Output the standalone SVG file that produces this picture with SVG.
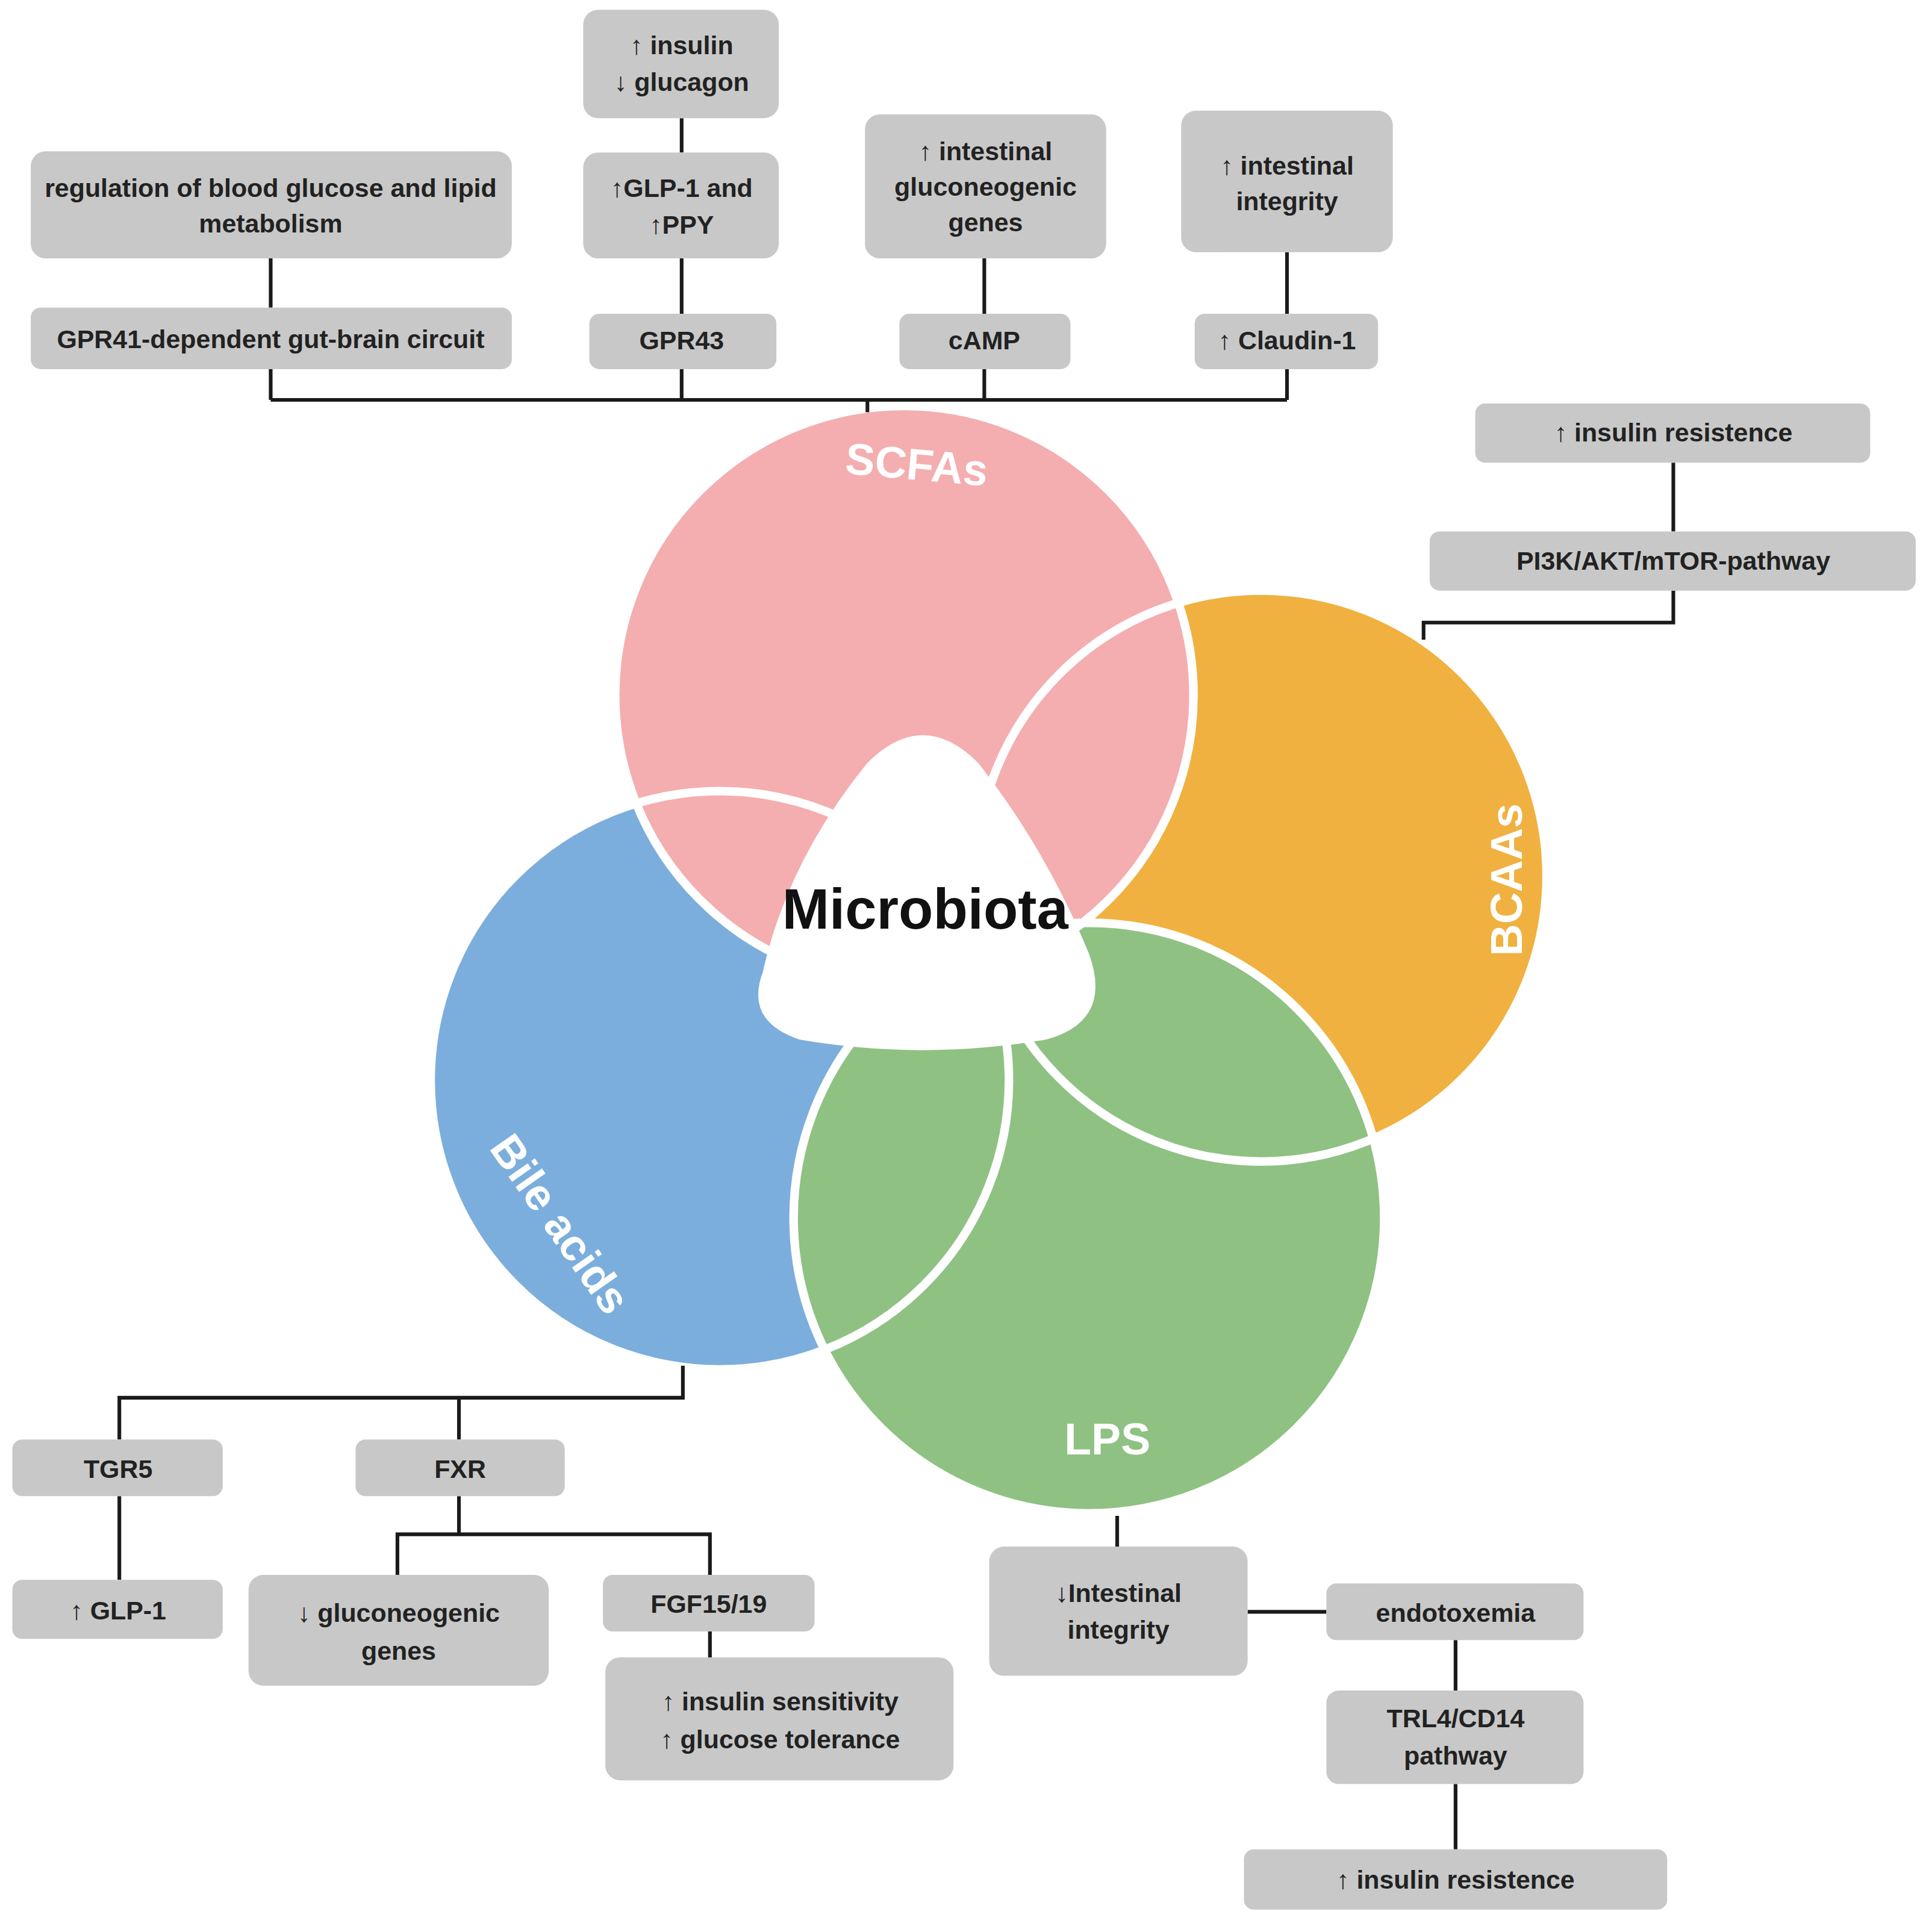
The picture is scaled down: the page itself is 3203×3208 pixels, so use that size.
<svg xmlns="http://www.w3.org/2000/svg" width="3203" height="3208" viewBox="0 0 3203 3208">
<style>
.b{fill:#C8C8C8}
.t{font-family:"Liberation Sans Narrow","Liberation Sans",sans-serif;font-weight:bold;font-size:21px;fill:#222;text-anchor:middle}
.l{stroke:#1a1a1a;stroke-width:3;fill:none}
.c{font-family:"Liberation Sans",sans-serif;font-weight:bold;font-size:36px;fill:#fff;text-anchor:middle}
.o{fill:none;stroke:#fff;stroke-width:7}
</style>
<rect width="3203" height="3208" fill="#fff"/>
<g transform="scale(2.043)">
<g id="circles">
<circle cx="585" cy="878" r="235" fill="#7BAEDC"/>
<circle cx="1025" cy="712" r="232" fill="#F0B140"/>
<circle cx="885" cy="990" r="240" fill="#8FC183"/>
<circle cx="735" cy="565" r="235" fill="#F4AEAF"/>
<circle cx="585" cy="878" r="235" class="o"/>
<circle cx="1025" cy="712" r="232" class="o"/>
<circle cx="885" cy="990" r="240" class="o"/>
<circle cx="735" cy="565" r="235" class="o"/>
<path d="M705 620 Q750 575 795 620 Q850 690 885 775 Q905 830 850 845 Q750 862 650 845 Q605 830 620 790 Q640 700 705 620 Z" fill="#fff"/>
<text x="752" y="755" style="font-family:'Liberation Sans',sans-serif;font-weight:bold;font-size:46px;fill:#111;text-anchor:middle">Microbiota</text>
<text class="c" x="745" y="390" transform="rotate(5 745 378)">SCFAs</text>
<text class="c" x="1225" y="727" transform="rotate(-90 1225 715)">BCAAs</text>
<text class="c" x="455" y="1007" transform="rotate(55 455 995)">Bile acids</text>
<text class="c" x="900" y="1182">LPS</text>
</g>
<g id="connectors">
<path class="l" d="M220 210V250M220 300V325M554 96V124M554 210V255M554 300V325M800 210V255M800 300V325M1046 205V255M1046 300V325M220 325H1046M705 325V335"/>
<path class="l" d="M1360 376V432M1360 480V506H1157V520"/>
<path class="l" d="M555 1110V1136H97V1170M373 1136V1170M97 1216V1284M373 1216V1247M323 1280V1247H577V1280M577 1326V1347"/>
<path class="l" d="M908 1232V1257M1014 1310H1078M1183 1333V1374M1183 1450V1503"/>
</g>
<g id="n1"><rect class="b" x="474" y="8" width="159" height="88" rx="12"/><text class="t" x="554" y="44">↑ insulin</text><text class="t" x="554" y="74">↓ glucagon</text></g>
<g id="n2"><rect class="b" x="474" y="124" width="159" height="86" rx="12"/><text class="t" x="554" y="160">↑GLP-1 and</text><text class="t" x="554" y="190">↑PPY</text></g>
<g id="n3"><rect class="b" x="25" y="123" width="391" height="87" rx="12"/><text class="t" x="220" y="160">regulation of blood glucose and lipid</text><text class="t" x="220" y="189">metabolism</text></g>
<g id="n4"><rect class="b" x="25" y="250" width="391" height="50" rx="8"/><text class="t" x="220" y="283">GPR41-dependent gut-brain circuit</text></g>
<g id="n5"><rect class="b" x="479" y="255" width="152" height="45" rx="8"/><text class="t" x="554" y="284">GPR43</text></g>
<g id="n6"><rect class="b" x="703" y="93" width="196" height="117" rx="12"/><text class="t" x="801" y="130">↑ intestinal</text><text class="t" x="801" y="159">gluconeogenic</text><text class="t" x="801" y="188">genes</text></g>
<g id="n7"><rect class="b" x="731" y="255" width="139" height="45" rx="8"/><text class="t" x="800" y="284">cAMP</text></g>
<g id="n8"><rect class="b" x="960" y="90" width="172" height="115" rx="12"/><text class="t" x="1046" y="142">↑ intestinal</text><text class="t" x="1046" y="171">integrity</text></g>
<g id="n9"><rect class="b" x="971" y="255" width="149" height="45" rx="8"/><text class="t" x="1046" y="284">↑ Claudin-1</text></g>
<g id="n10"><rect class="b" x="1199" y="328" width="321" height="48" rx="8"/><text class="t" x="1360" y="359">↑ insulin resistence</text></g>
<g id="n11"><rect class="b" x="1162" y="432" width="395" height="48" rx="8"/><text class="t" x="1360" y="463">PI3K/AKT/mTOR-pathway</text></g>
<g id="n12"><rect class="b" x="10" y="1170" width="171" height="46" rx="8"/><text class="t" x="96" y="1201">TGR5</text></g>
<g id="n13"><rect class="b" x="289" y="1170" width="170" height="46" rx="8"/><text class="t" x="374" y="1201">FXR</text></g>
<g id="n14"><rect class="b" x="10" y="1284" width="171" height="48" rx="8"/><text class="t" x="96" y="1316">↑ GLP-1</text></g>
<g id="n15"><rect class="b" x="202" y="1280" width="244" height="90" rx="12"/><text class="t" x="324" y="1318">↓ gluconeogenic</text><text class="t" x="324" y="1349">genes</text></g>
<g id="n16"><rect class="b" x="490" y="1280" width="172" height="46" rx="8"/><text class="t" x="576" y="1311">FGF15/19</text></g>
<g id="n17"><rect class="b" x="492" y="1347" width="283" height="100" rx="12"/><text class="t" x="634" y="1390">↑ insulin sensitivity</text><text class="t" x="634" y="1421">↑ glucose tolerance</text></g>
<g id="n18"><rect class="b" x="804" y="1257" width="210" height="105" rx="12"/><text class="t" x="909" y="1302">↓Intestinal</text><text class="t" x="909" y="1332">integrity</text></g>
<g id="n19"><rect class="b" x="1078" y="1287" width="209" height="46" rx="8"/><text class="t" x="1183" y="1318">endotoxemia</text></g>
<g id="n20"><rect class="b" x="1078" y="1374" width="209" height="76" rx="10"/><text class="t" x="1183" y="1404">TRL4/CD14</text><text class="t" x="1183" y="1434">pathway</text></g>
<g id="n21"><rect class="b" x="1011" y="1503" width="344" height="49" rx="8"/><text class="t" x="1183" y="1535">↑ insulin resistence</text></g>
</g>
</svg>
